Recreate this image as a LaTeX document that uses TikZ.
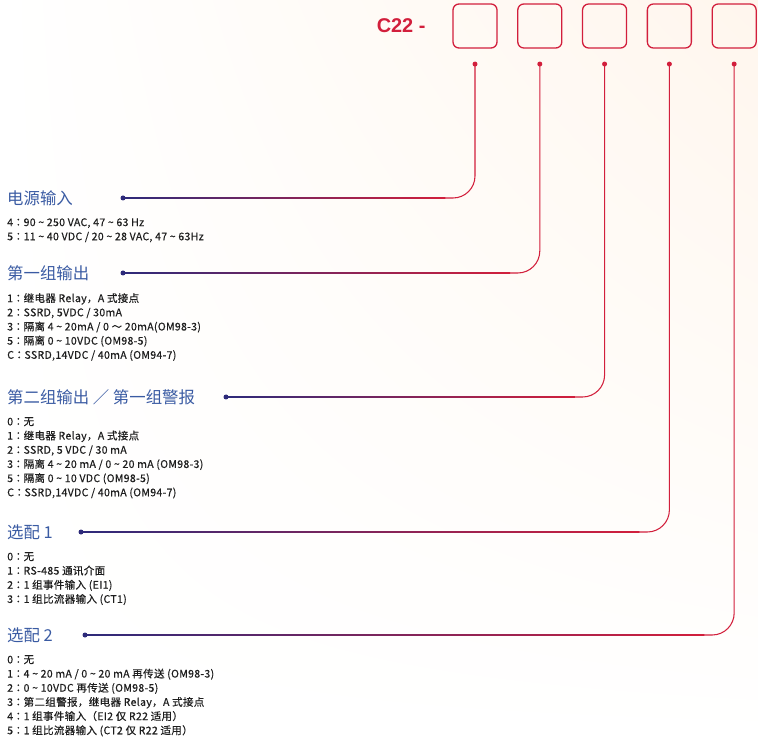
\documentclass[tikz,border=0pt]{standalone}
\usepackage{fontspec}
\setmainfont{Noto Sans CJK SC}
\newfontfamily\itemfont[LetterSpace=3, FakeBold=0.4]{Noto Sans CJK SC}
\newfontfamily\colonfont[FakeBold=0.4]{Noto Sans CJK TC}
\newfontfamily\modelfont{Liberation Sans}
\usepackage{tikz}
\usetikzlibrary{positioning, calc, shadings}
\definecolor{wirered}{HTML}{D21F3C}
\definecolor{wireblue}{HTML}{2D2A7A}
\definecolor{headblue}{HTML}{3A5BA3}
\definecolor{itemgray}{HTML}{1E1E1E}
\newcommand{\tld}{\textasciitilde}
\newcommand{\cln}{{\colonfont ：}}
% #1 = tap on the left, #2 = pin under the slot
\newcommand{\feed}[2]{%
  \coordinate (#1end) at ($(#2 |- #1)+(-30,0)$);
  \draw[wire] (#2.center) |- (#1end);
  \shade[left color=wireblue, right color=wirered]
    ($(#1)+(0,-0.53)$) rectangle ($(#1end)+(0.3,0.53)$);
}

\begin{document}
\begin{tikzpicture}[x=0.03cm, y=-0.03cm,
  slot/.style={draw=wirered, line width=1.1pt, rounded corners=0.18cm, minimum size=1.32cm, inner sep=0pt},
  pin/.style={circle, fill=wirered, inner sep=0pt, minimum size=0.15cm},
  tap/.style={circle, fill=wireblue, inner sep=0pt, minimum size=0.15cm},
  head/.style={font=\fontsize{14}{16}\selectfont, text=headblue, inner sep=0pt, anchor=west},
  items/.style={font=\itemfont\fontsize{9}{12.1}\selectfont, text=itemgray, align=left, inner sep=0pt},
  wire/.style={line width=0.9pt, draw=wirered, rounded corners=0.66cm}
]
\useasboundingbox (0,0) rectangle (758,741);
\shade[upper right=orange!7!white, upper left=white, lower left=white, lower right=white] (0,0) rectangle (758,741);

% model code
\node[slot] (box1) at (475,26) {};
\node[slot, right=0.585cm of box1] (box2) {};
\node[slot, right=0.585cm of box2] (box3) {};
\node[slot, right=0.585cm of box3] (box4) {};
\node[slot, right=0.585cm of box4] (box5) {};
\node[left=0.8cm of box1, inner sep=0pt, font=\modelfont\fontsize{17}{20}\selectfont\bfseries, text=wirered] (model) {C22 -};

\node[pin, below=0.38cm of box1] (pin1) {};
\node[pin, below=0.38cm of box2] (pin2) {};
\node[pin, below=0.38cm of box3] (pin3) {};
\node[pin, below=0.38cm of box4] (pin4) {};
\node[pin, below=0.38cm of box5] (pin5) {};

% power
\node[head] (pwr) at (7,198) {电源输入};
\node[items, below=0.6cm of pwr.west, anchor=north west] (pwrlist) {%
4\cln 90 \tld{} 250 VAC, 47 \tld{} 63 Hz\\
5\cln 11 \tld{} 40 VDC / 20 \tld{} 28 VAC, 47 \tld{} 63Hz};
\node[tap] (tap1) at (123,198) {};

% output 1
\node[head] (out1) at (7,273) {第一组输出};
\node[items, below=0.6cm of out1.west, anchor=north west] (out1list) {%
1\cln 继电器 Relay，A 式接点\\
2\cln SSRD, 5VDC / 30mA\\
3\cln 隔离 4 \tld{} 20mA / 0 ～ 20mA(OM98-3)\\
5\cln 隔离 0 \tld{} 10VDC (OM98-5)\\
C\cln SSRD,14VDC / 40mA (OM94-7)};
\node[tap] (tap2) at (123,273) {};

% output 2 / alarm 1
\node[head] (out2) at (7,397) {第二组输出\ ／\ 第一组警报};
\node[items, below=0.6cm of out2.west, anchor=north west] (out2list) {%
0\cln 无\\
1\cln 继电器 Relay，A 式接点\\
2\cln SSRD, 5 VDC / 30 mA\\
3\cln 隔离 4 \tld{} 20 mA / 0 \tld{} 20 mA (OM98-3)\\
5\cln 隔离 0 \tld{} 10 VDC (OM98-5)\\
C\cln SSRD,14VDC / 40mA (OM94-7)};
\node[tap] (tap3) at (226,397) {};

% option 1
\node[head] (opt1) at (7,532) {选配 1};
\node[items, below=0.6cm of opt1.west, anchor=north west] (opt1list) {%
0\cln 无\\
1\cln RS-485 通讯介面\\
2\cln 1 组事件输入 (EI1)\\
3\cln 1 组比流器输入 (CT1)};
\node[tap] (tap4) at (81,532) {};

% option 2
\node[head] (opt2) at (7,635) {选配 2};
\node[items, below=0.6cm of opt2.west, anchor=north west] (opt2list) {%
0\cln 无\\
1\cln 4 \tld{} 20 mA / 0 \tld{} 20 mA 再传送 (OM98-3)\\
2\cln 0 \tld{} 10VDC 再传送 (OM98-5)\\
3\cln 第二组警报，继电器 Relay，A 式接点\\
4\cln 1 组事件输入（EI2 仅 R22 适用）\\
5\cln 1 组比流器输入 (CT2 仅 R22 适用）};
\node[tap] (tap5) at (85,635) {};

\feed{tap1}{pin1}
\feed{tap2}{pin2}
\feed{tap3}{pin3}
\feed{tap4}{pin4}
\feed{tap5}{pin5}

\end{tikzpicture}
\end{document}
